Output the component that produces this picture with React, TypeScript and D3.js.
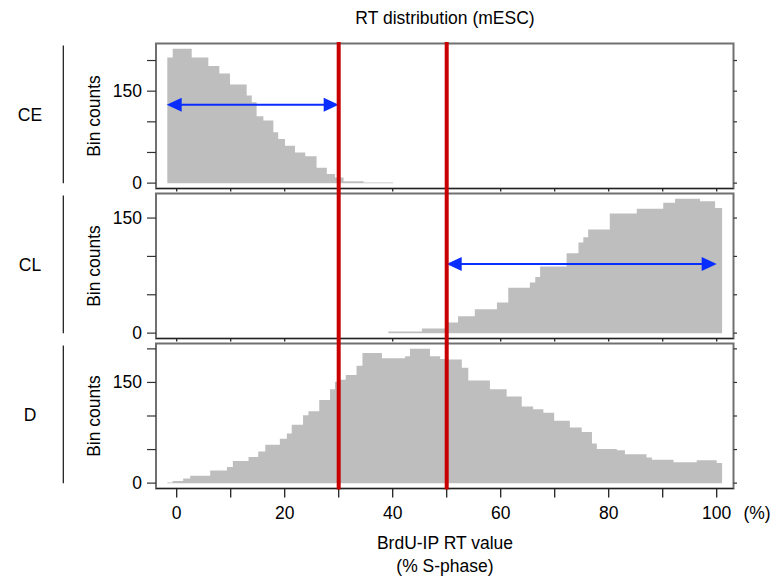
import React from "react";
import * as d3 from "d3";

// Histogram steps: bin edges (in % S-phase) and counts per bin
const ceBreaks = [-1.74, -0.74, 2.78, 5.86, 7.9, 9.87, 12.96, 13.9, 14.8, 16.05, 17.9, 18.8, 20.05, 21.9, 23.8, 25.9, 27.8, 29.3, 30.9, 34.6, 40.1];
const ceCounts = [205, 219, 205, 191, 179, 161, 143, 132, 109, 102, 83, 72, 61, 50, 44, 25, 15, 9, 3, 1];

const clBreaks = [39.2, 45.4, 49.7, 52.1, 55.2, 59.3, 61.4, 65.4, 66.4, 67.3, 72.2, 74.4, 75.3, 76.2, 80.2, 85.2, 90.1, 92.3, 96.9, 99.7, 101];
const clCounts = [2, 6, 14, 22, 31, 40, 59, 66, 73, 87, 104, 118, 125, 135, 156, 162, 170, 175, 172, 163];

const dBreaks = [-1.74, -0.74, 1.2, 2.5, 6.2, 9.3, 10.4, 13.3, 15.1, 16.4, 19.1, 20.4, 21.3, 23.4, 24.4, 26.4, 28.4, 29.3, 30.2, 31.3, 33.3, 34.4, 38, 42.3, 43.2, 46.9, 48.8, 50.3, 52.8, 54, 58, 61.1, 63.9, 66, 67.9, 69.9, 72.8, 75, 76.9, 77.8, 81.5, 83, 87, 88, 92, 96.3, 100, 101];
const dCounts = [1, 3, 7, 11, 19, 24, 33, 39, 47, 57, 66, 74, 87, 101, 107, 124, 140, 151, 154, 161, 175, 194, 186, 189, 200, 189, 185, 184, 172, 153, 140, 129, 114, 110, 105, 93, 83, 76, 59, 51, 49, 43, 38, 35, 31, 34, 30];

const panelNames = ["CE", "CL", "D"];
const panelBreaks = [ceBreaks, clBreaks, dBreaks];
const panelCounts = [ceCounts, clCounts, dCounts];

// Range arrows: [from, to, count level] per panel (null = none)
const rangeArrows: ([number, number, number] | null)[] = [[-1.85, 30, 128], [50, 100, 90], null];

const cutoffs = [30, 50];
const xMinorTicks = d3.range(0, 101, 10);
const xTickLabels = [0, 20, 40, 60, 80, 100];
const yTicks = [0, 50, 100, 150, 200];
const yTickLabels = [0, 150];

const W = 778;
const H = 579;
const FRAME_L = 156;
const FRAME_R = 733.5;
const PANEL_H = 145;
const PANEL_TOPS = [43.5, 193.5, 343.5];
const FONT = "'Liberation Sans', Arial, Helvetica, sans-serif";
const FS = 17.5;

const x = d3.scaleLinear().domain([0, 100]).range([176.7, 716.7]);

function Arrow({ x1, x2, y }: { x1: number; x2: number; y: number }) {
  const L = 15;
  const hw = 7;
  const color = "#0a2dff";
  return (
    <g>
      <line x1={x1 + L - 2} x2={x2 - L + 2} y1={y} y2={y} stroke={color} strokeWidth={2} />
      <path d={`M${x1},${y} L${x1 + L},${y - hw} L${x1 + L},${y + hw} Z`} fill={color} />
      <path d={`M${x2},${y} L${x2 - L},${y - hw} L${x2 - L},${y + hw} Z`} fill={color} />
    </g>
  );
}

function Panel({ idx }: { idx: number }) {
  const top = PANEL_TOPS[idx];
  const bottom = top + PANEL_H;
  const breaks = panelBreaks[idx];
  const counts = panelCounts[idx];
  const maxC = d3.max(counts) as number;
  const y = d3.scaleLinear().domain([-0.04 * maxC, 1.04 * maxC]).range([bottom, top]);
  const pts: [number, number][] = breaks.map((b, i) => [b, counts[Math.min(i, counts.length - 1)]]);
  const area = d3
    .area<[number, number]>()
    .x((d) => x(d[0]))
    .y0(y(0))
    .y1((d) => y(d[1]))
    .curve(d3.curveStepAfter);
  const ticks = yTicks.filter((t) => y(t) >= top - 0.5);
  const isLast = idx === panelNames.length - 1;
  const mid = (top + bottom) / 2;
  const arrow = rangeArrows[idx];
  return (
    <g>
      <path d={area(pts) || ""} fill="#bebebe" />
      <rect x={FRAME_L} y={top} width={FRAME_R - FRAME_L} height={PANEL_H} fill="none" stroke="#707070" strokeWidth={2} />
      <line x1={FRAME_L} x2={FRAME_R} y1={bottom} y2={bottom} stroke="#222" strokeWidth={1.2} />
      {xMinorTicks.map((t) => (
        <line key={t} x1={x(t)} x2={x(t)} y1={bottom} y2={bottom + (isLast ? 9 : 3)} stroke="#222" strokeWidth={1.3} />
      ))}
      {ticks.map((t) => (
        <g key={t}>
          <line x1={147} x2={FRAME_L} y1={y(t)} y2={y(t)} stroke="#333" strokeWidth={1.2} />
          <line x1={FRAME_R} x2={FRAME_R + 3.5} y1={y(t)} y2={y(t)} stroke="#333" strokeWidth={1.2} />
        </g>
      ))}
      {yTickLabels.map((t) => (
        <text key={t} x={142} y={y(t)} textAnchor="end" dominantBaseline="central" fontSize={FS} fontFamily={FONT}>
          {t}
        </text>
      ))}
      <text
        transform={`translate(94,${mid}) rotate(-90)`}
        textAnchor="middle"
        dominantBaseline="central"
        fontSize={FS}
        fontFamily={FONT}
      >
        Bin counts
      </text>
      <line x1={63.3} x2={63.3} y1={top + 2} y2={y(0)} stroke="#111" strokeWidth={1.2} />
      <text x={30} y={mid - 1} textAnchor="middle" dominantBaseline="central" fontSize={FS} fontFamily={FONT}>
        {panelNames[idx]}
      </text>
      {arrow && <Arrow x1={x(arrow[0])} x2={x(arrow[1])} y={y(arrow[2])} />}
    </g>
  );
}

export default function App() {
  const axisY = PANEL_TOPS[2] + PANEL_H;
  return (
    <svg width={W} height={H} style={{ position: "absolute", left: 0, top: 0, background: "#fff" }}>
      <rect width={W} height={H} fill="#fff" />
      <text x={445} y={18} textAnchor="middle" dominantBaseline="central" fontSize={FS} fontFamily={FONT}>
        RT distribution (mESC)
      </text>
      {panelNames.map((_, i) => (
        <Panel key={i} idx={i} />
      ))}
      {cutoffs.map((c) => (
        <line key={c} x1={x(c)} x2={x(c)} y1={42} y2={axisY + 1} stroke="#c80000" strokeWidth={4} />
      ))}
      {xTickLabels.map((t) => (
        <text key={t} x={x(t)} y={513} textAnchor="middle" dominantBaseline="central" fontSize={FS} fontFamily={FONT}>
          {t}
        </text>
      ))}
      <text x={757} y={513} textAnchor="middle" dominantBaseline="central" fontSize={FS} fontFamily={FONT}>
        (%)
      </text>
      <text x={445} y={543} textAnchor="middle" dominantBaseline="central" fontSize={FS} fontFamily={FONT}>
        BrdU-IP RT value
      </text>
      <text x={445} y={566} textAnchor="middle" dominantBaseline="central" fontSize={FS} fontFamily={FONT}>
        (% S-phase)
      </text>
    </svg>
  );
}
